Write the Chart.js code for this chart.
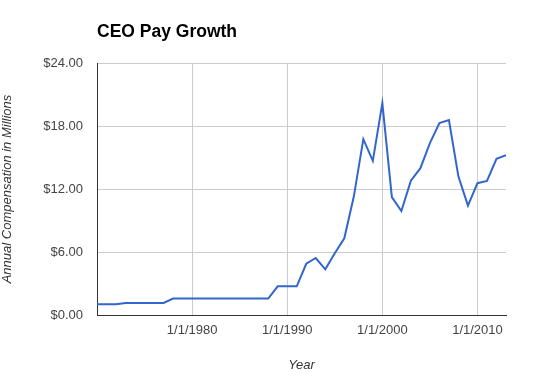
<!DOCTYPE html>
<html>
<head>
<meta charset="utf-8">
<script src="https://cdn.jsdelivr.net/npm/chart.js@4.4.1/dist/chart.umd.min.js"></script>
<style>
  html, body { margin: 0; padding: 0; background: #fff; }
  #wrap { width: 550px; height: 383px; }
</style>
</head>
<body>
<div id="wrap"><canvas id="pay-chart"></canvas></div>
<script>
/* CEO Pay Growth — annual compensation, millions */
const years = [1970, 1972, 1973, 1977, 1978, 1988, 1989, 1991, 1992, 1993, 1994, 1995, 1996, 1997, 1998, 1999,
               2000, 2001, 2002, 2003, 2004, 2005, 2006, 2007, 2008, 2009, 2010, 2011, 2012, 2013];
const pay = [1.02, 1.02, 1.14, 1.14, 1.56, 1.56, 2.73, 2.73, 4.88, 5.43, 4.35, 5.88, 7.31, 11.28, 16.75, 14.68,
             20.18, 11.22, 9.91, 12.8, 13.98, 16.37, 18.27, 18.56, 13.18, 10.42, 12.55, 12.77, 14.87, 15.22];
const xTicks = [1980, 1990, 2000, 2010];

document.addEventListener('DOMContentLoaded', () => {
    Chart.defaults.font.family = "'Liberation Sans', Arial, sans-serif";
    Chart.defaults.font.size = 13;
    Chart.defaults.color = '#444';

    new Chart(document.getElementById('pay-chart'), {
        type: 'line',
        data: {
            datasets: [{
                label: 'CEO Pay',
                data: years.map((y, i) => ({ x: y, y: pay[i] })),
                borderColor: '#3366CC',
                borderWidth: 2,
                pointRadius: 0,
                tension: 0,
                fill: false
            }]
        },
        options: {
            responsive: true,
            maintainAspectRatio: false,
            animation: false,
            layout: { padding: { left: 0, right: 44, top: 0, bottom: 0 } },
            scales: {
                x: {
                    type: 'linear',
                    min: 1970,
                    max: 2013,
                    afterBuildTicks: (scale) => { scale.ticks = xTicks.map(v => ({ value: v })); },
                    afterFit: (scale) => { scale.height = 68; },
                    grid: { color: '#ccc', drawTicks: false },
                    border: { color: '#333', width: 1 },
                    ticks: {
                        padding: 8,
                        maxRotation: 0,
                        color: '#444',
                        callback: v => '1/1/' + v
                    },
                    title: {
                        display: true,
                        text: 'Year',
                        color: '#333',
                        font: { style: 'italic', size: 13 },
                        padding: { top: 0, bottom: 10 }
                    }
                },
                y: {
                    min: 0,
                    max: 24,
                    afterFit: (scale) => { scale.width = 97; },
                    grid: { color: '#ccc', drawTicks: false },
                    border: { color: '#333', width: 1 },
                    ticks: {
                        stepSize: 6,
                        padding: 14,
                        color: '#444',
                        callback: v => '$' + v.toFixed(2)
                    },
                    title: {
                        display: true,
                        text: 'Annual Compensation in Millions',
                        color: '#333',
                        font: { style: 'italic', size: 13 },
                        padding: { top: 0, bottom: 0 }
                    }
                }
            },
            plugins: {
                legend: { display: false },
                tooltip: { enabled: false },
                title: {
                    display: true,
                    text: 'CEO Pay Growth',
                    align: 'start',
                    fullSize: false,
                    color: '#000',
                    font: { size: 17.5, weight: 'bold' },
                    padding: { top: 22, bottom: 20 }
                }
            }
        }
    });
});
</script>
</body>
</html>
